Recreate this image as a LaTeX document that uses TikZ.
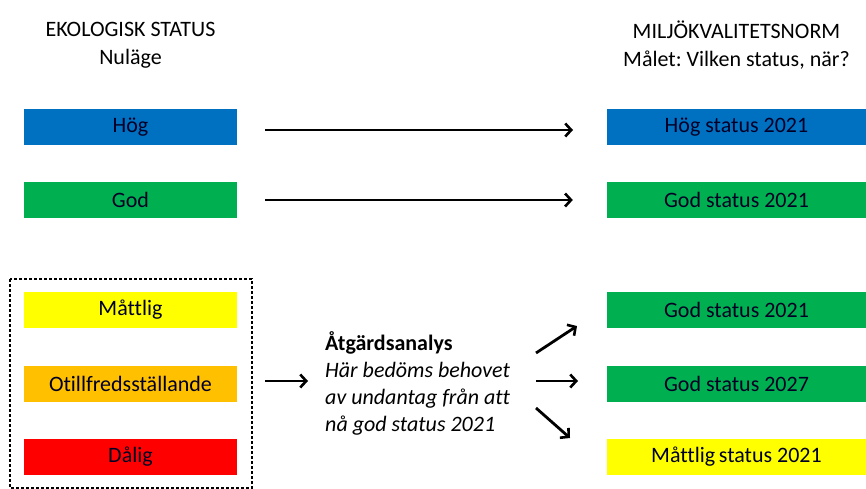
\documentclass[tikz,border=0pt]{standalone}
\usepackage{fontspec}
\setmainfont[Ligatures=NoCommon]{Carlito}
\usetikzlibrary{arrows.meta}
\definecolor{cblue}{RGB}{0,112,192}
\definecolor{cgreen}{RGB}{0,176,80}
\definecolor{cyellow}{RGB}{255,255,0}
\definecolor{corange}{RGB}{255,192,0}
\definecolor{cred}{RGB}{255,0,0}
\tikzset{
  lbox/.style={minimum width=213pt,minimum height=36pt,inner sep=0pt,font=\fontsize{22}{26}\selectfont,text=black!85!blue},
  rbox/.style={minimum width=259pt,minimum height=36pt,inner sep=0pt,font=\fontsize{22}{26}\selectfont,text=black!85!blue},
  hdr/.style={align=center,font=\fontsize{22}{28}\selectfont,inner sep=0pt},
  arr/.style={line width=2.8pt,-{Straight Barb[length=6pt,width=13pt,line width=2.6pt]}},
}
\frenchspacing
\begin{document}
\frenchspacing
\begin{tikzpicture}[x=1pt,y=-1pt]
\useasboundingbox (0,0) rectangle (866,489);
\node[hdr] (hl) at (130.5,45) {EKOLOGISK STATUS\\Nuläge};
\node[hdr] (hr) at (736.5,45) {MILJÖKVALITETSNORM\\Målet: Vilken status, när?};
\node[lbox,fill=cblue] (hogL) at (130.5,127.5) {Hög};
\node[lbox,fill=cgreen] (godL) at (130.5,200) {God};
\node[lbox,fill=cyellow] (mattL) at (130.5,310) {Måttlig};
\node[lbox,fill=corange] (otiL) at (130.5,384) {Otillfredsställande};
\node[lbox,fill=cred] (dalL) at (130.5,457) {Dålig};
\node[rbox,fill=cblue] (hogR) at (736.5,127.5) {Hög status 2021};
\node[rbox,fill=cgreen] (godR) at (736.5,200) {God status 2021};
\node[rbox,fill=cgreen] (god21) at (736.5,310) {God status 2021};
\node[rbox,fill=cgreen] (god27) at (736.5,384) {God status 2027};
\node[rbox,fill=cyellow] (matt21) at (736.5,457) {Måttlig\,status 2021};
\draw[dashed,dash pattern=on 3pt off 2pt,line width=1.2pt] (10,279) rectangle (252,488);
\coordinate (frameE) at (252,381);
\node[anchor=west,align=left,inner sep=0pt,font=\fontsize{22}{27}\selectfont] (analys) at (325,383)
  {\textbf{Åtgärdsanalys}\\\textit{Här bedöms behovet}\\\textit{av undantag från att}\\\textit{nå god status 2021}};
\coordinate (h1) at (265,130);
\coordinate (h2) at (573,130);
\draw[arr] (h1) -- (h2);
\draw[arr] ([xshift=28pt]godL.east) -- ([xshift=-34pt]godR.west);
\draw[arr] ([xshift=13pt]frameE) -- ([xshift=-17pt]analys.west |- frameE);
\coordinate (u1) at (536,353);
\coordinate (u2) at (577,326);
\coordinate (m1) at (536,381);
\coordinate (m2) at (578,381);
\coordinate (d1) at (536,408);
\coordinate (d2) at (570,438);
\draw[arr] (u1) -- (u2);
\draw[arr] (m1) -- (m2);
\draw[arr] (d1) -- (d2);
\end{tikzpicture}
\end{document}
